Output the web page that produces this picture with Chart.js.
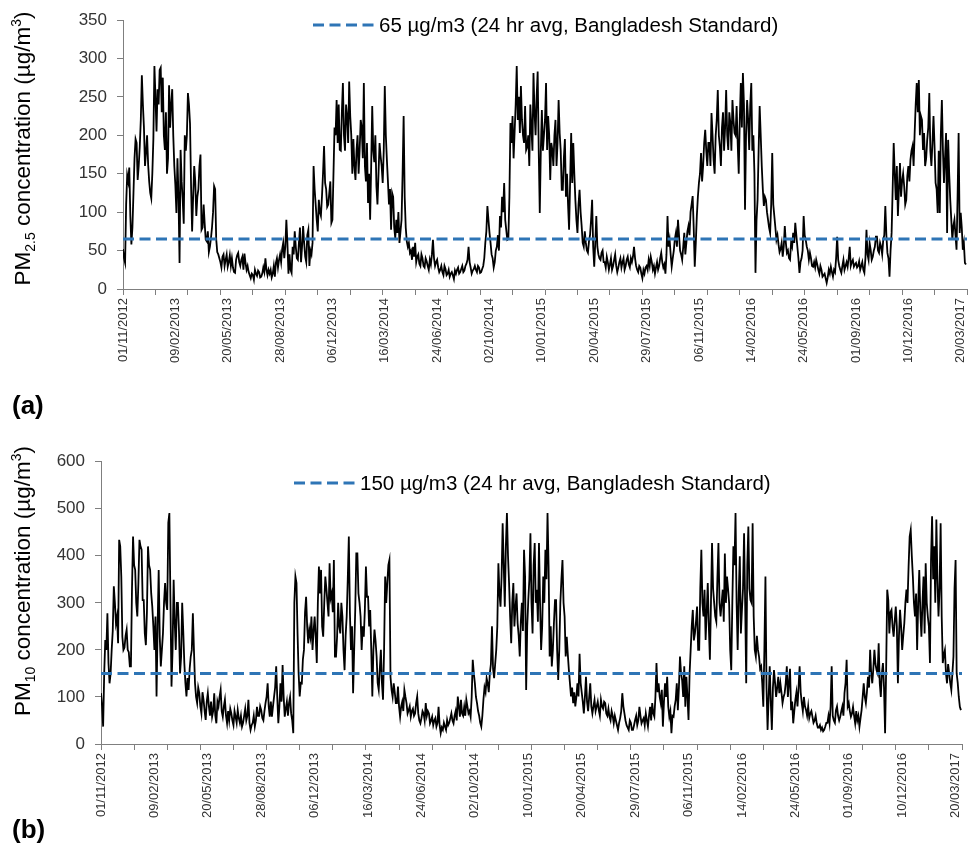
<!DOCTYPE html>
<html><head><meta charset="utf-8">
<script src="https://cdn.jsdelivr.net/npm/chart.js@4.4.1/dist/chart.umd.min.js"></script>
<style>
html,body{margin:0;padding:0;background:#fff;overflow:hidden;width:978px;height:847px;}
.panel{position:absolute;left:0;}
.tag{position:absolute;left:12px;font:bold 26px 'Liberation Sans',Arial,sans-serif;color:#000;line-height:1;}
</style></head><body>
<div class="panel" style="top:0;width:978px;height:400px"><canvas id="cA" width="978" height="400"></canvas></div>
<div class="panel" style="top:430px;width:978px;height:417px"><canvas id="cB" width="978" height="417"></canvas></div>
<div class="tag" style="top:392px">(a)</div>
<div class="tag" style="top:816px">(b)</div>
<script>
// ---------- DATA ----------
// x-axis tick labels (every 100 days from 01/11/2012)
const dateLabels = ['01/11/2012','09/02/2013','20/05/2013','28/08/2013','06/12/2013','16/03/2014','24/06/2014','02/10/2014','10/01/2015','20/04/2015','29/07/2015','06/11/2015','14/02/2016','24/05/2016','01/09/2016','10/12/2016','20/03/2017'];
const sampleStepDays = 2;          // one reading every 2 days from 01/11/2012
const axisSpanDays = 1612;         // axis ends 01/04/2017
const tickMarkEvery = 62;          // tick mark interval (days)
const labelEvery = 100;            // label interval (days)

// PM2.5 (µg/m3), one value every 2 days
const pm25 = [
52,40,34,110,148,140,158,95,58,80,125,170,195,190,142,160,185,220,278,240,
210,160,178,200,162,140,125,118,150,195,290,250,205,260,240,285,288,230,275,200,
181,230,150,170,265,210,240,260,200,160,135,99,170,120,34,181,140,116,85,200,
180,200,255,240,215,134,75,120,160,140,95,120,130,160,175,77,80,110,85,64,
62,75,48,55,66,80,100,134,130,65,48,45,40,35,28,42,45,30,38,45,
29,35,44,30,40,28,22,21,38,44,47,35,30,38,42,25,46,34,25,30,
22,18,14,20,18,12,25,20,17,24,22,15,16,20,28,22,40,25,18,25,
20,25,15,20,30,16,34,40,28,38,45,35,52,60,40,55,90,60,20,45,
25,21,55,45,75,55,40,38,60,80,35,55,82,60,42,35,70,77,30,50,
45,60,160,130,110,90,75,116,100,95,120,150,186,138,130,107,110,125,140,86,
90,150,210,200,246,190,240,181,180,230,268,200,180,240,225,190,270,225,200,150,
195,160,142,180,200,150,181,220,210,170,268,160,140,190,112,150,90,160,238,180,
165,200,134,110,150,190,173,160,138,180,264,200,168,140,110,130,77,125,120,80,
66,90,73,100,60,75,90,150,225,120,80,62,55,60,47,50,38,55,42,60,
35,42,45,33,30,45,40,30,28,40,36,30,25,38,32,45,64,40,30,35,
38,28,22,25,30,22,18,30,26,18,20,25,16,20,22,18,13,24,20,25,
28,20,22,26,30,22,24,30,33,38,55,35,28,20,24,26,30,25,22,30,
28,21,22,26,30,40,60,75,108,90,73,60,45,40,28,35,50,55,70,50,
95,80,120,100,138,90,77,64,65,120,216,190,225,170,205,240,290,220,250,203,
264,220,200,190,238,181,185,200,160,240,210,180,281,230,200,250,283,181,99,180,
233,180,200,220,268,181,225,200,142,190,181,160,200,220,160,190,246,203,180,129,
129,170,195,120,150,110,77,140,203,138,190,150,116,90,73,110,129,100,82,60,
55,75,60,50,47,62,70,90,116,55,29,60,95,55,45,40,38,47,50,35,
35,28,42,35,25,32,40,25,30,38,45,30,22,28,35,40,28,35,40,25,
30,38,42,32,28,40,35,42,55,40,30,25,22,30,28,20,14,25,20,28,
30,25,38,30,42,35,25,30,20,28,35,25,30,40,47,35,28,32,20,45,
95,55,64,45,29,40,50,65,73,55,90,70,50,45,38,55,73,45,60,75,
82,70,100,110,121,80,29,60,95,120,138,150,177,140,160,190,207,180,160,190,
190,160,229,200,168,150,200,220,259,200,185,160,210,230,180,210,259,200,181,230,
216,180,246,220,203,200,238,190,150,220,268,210,281,240,103,200,246,220,181,240,
268,180,200,150,21,90,116,180,238,200,160,130,108,120,116,100,90,80,73,110,
177,110,95,80,64,70,58,48,52,60,42,55,82,60,47,50,40,38,60,55,
73,60,86,70,55,40,21,35,40,50,95,70,64,55,50,38,47,40,30,29,
35,28,38,32,25,20,30,25,16,18,20,14,8,15,25,20,29,22,16,25,
22,40,68,38,30,25,21,30,38,25,30,35,29,40,55,30,35,38,29,32,
34,28,30,36,25,30,35,25,21,40,77,45,38,60,51,38,42,50,55,68,
68,50,47,60,55,45,64,70,108,70,47,40,16,50,73,130,190,150,116,160,
95,130,164,120,140,150,134,110,116,147,160,140,168,180,186,160,203,240,268,230,
272,200,225,220,181,203,160,170,194,210,255,180,160,190,225,186,138,130,99,180,
99,200,246,181,138,170,203,73,194,150,116,90,64,82,90,70,51,120,203,73,
99,80,51,60,34,32
];

// PM10 (µg/m3), one value every 2 days
const pm10 = [
108,80,37,150,221,200,278,172,129,150,200,240,335,300,257,271,214,434,420,356,
228,200,205,230,243,200,195,165,165,328,441,380,370,300,271,342,434,420,413,306,
306,235,210,280,420,380,370,320,292,250,200,271,101,250,370,228,165,200,235,300,
342,300,285,470,491,306,122,200,349,260,200,300,300,240,150,186,300,240,172,130,
101,140,115,160,186,200,278,200,129,100,87,120,108,80,65,110,94,70,51,90,
108,80,60,90,58,70,108,60,44,90,80,100,115,70,58,80,94,60,44,70,
50,75,65,50,40,70,58,45,72,55,45,60,37,45,60,75,50,60,94,45,
30,40,45,60,37,50,79,60,60,80,72,55,50,70,87,100,129,80,58,90,
58,80,100,120,165,100,44,80,129,90,168,100,58,75,90,60,87,100,65,50,
23,300,356,342,235,150,101,130,129,180,200,280,313,250,214,243,228,271,200,240,
271,228,172,300,377,320,370,250,228,300,356,330,300,271,384,310,320,280,391,186,
186,228,300,250,235,300,271,200,157,230,271,350,441,280,200,250,108,200,285,405,
405,320,300,271,200,250,228,285,377,313,313,250,285,200,101,200,243,220,186,130,
115,160,200,129,94,200,356,300,342,380,391,143,115,100,129,110,87,87,122,80,
58,80,90,70,115,100,87,65,72,80,58,70,75,60,65,87,101,65,50,44,
55,70,65,50,87,60,70,65,44,50,58,40,50,55,37,45,79,40,23,35,
30,45,37,30,51,40,45,55,65,50,44,60,70,50,101,80,58,94,65,60,
79,60,94,80,65,70,58,100,179,150,129,100,87,70,60,45,37,60,94,120,
110,140,129,110,150,170,250,160,140,170,200,250,384,320,292,356,469,380,292,420,
491,400,342,271,214,300,342,250,290,320,257,230,186,260,300,240,413,356,115,250,
306,350,448,300,235,380,427,300,328,260,427,300,200,250,356,300,413,350,491,377,
186,250,165,200,257,306,306,200,136,200,300,350,391,300,271,186,228,190,157,129,
101,120,87,110,80,100,129,101,192,130,110,90,65,100,143,90,70,100,129,80,
65,80,94,70,80,90,72,60,94,80,75,90,87,65,60,75,58,50,70,60,
44,60,50,40,30,45,55,70,108,80,65,50,40,35,30,50,45,30,30,40,
51,60,40,50,79,60,44,50,55,40,65,50,37,60,79,50,87,65,58,100,
172,110,129,100,87,115,37,90,129,100,143,80,58,70,23,60,58,80,94,129,
72,120,186,150,136,100,165,79,143,100,51,150,200,250,285,220,235,260,292,200,
200,330,413,300,271,328,221,280,342,250,179,300,427,330,300,271,260,350,427,300,
271,300,328,260,405,300,356,330,300,200,157,300,420,380,491,300,200,320,399,235,
285,330,448,300,129,380,462,330,306,300,469,271,200,186,230,200,186,160,165,129,
79,200,356,120,30,100,165,90,30,120,157,130,100,120,143,108,129,110,87,100,
108,130,165,100,129,160,72,90,44,70,94,110,80,120,165,110,87,70,100,80,
72,60,80,55,65,70,58,45,50,60,44,35,35,40,30,35,27,30,37,45,
45,60,44,80,165,60,50,45,72,80,60,50,58,70,80,60,108,130,179,80,
87,70,58,65,79,60,44,70,50,60,37,55,72,100,129,100,87,110,143,120,
200,150,129,160,200,170,157,150,214,129,100,150,172,120,23,160,328,306,235,280,
285,250,228,260,292,250,129,230,285,250,200,230,257,300,328,300,377,441,455,400,
356,300,271,320,200,300,370,280,228,300,356,235,384,300,271,250,172,391,484,350,
420,300,477,350,271,330,469,271,172,190,200,150,129,170,150,130,115,150,186,330,
391,150,130,100,79,72
];

// Bangladesh 24-hr standards (µg/m3)
const standardValues = [65, 150];
const standardLabels = ['65 µg/m3 (24 hr avg, Bangladesh Standard)', '150 µg/m3 (24 hr avg, Bangladesh Standard)'];
const yMaxes = [350, 600];
const ySteps = [50, 100];

// ---------- RENDER ----------
const FONT = "'Liberation Sans', Arial, sans-serif";
const AXIS = '#7f7f7f';
const TICKTXT = '#333333';
const STDCOL = '#2E75B6';

// tick positions: union of tick marks and label positions
const tickValues = (() => {
  const s = new Set();
  for (let v = 0; v <= axisSpanDays; v += tickMarkEvery) s.add(v);
  for (let v = 0; v < dateLabels.length * labelEvery; v += labelEvery) s.add(v);
  return [...s].sort((a, b) => a - b);
})();

const annotPlugin = {
  id: 'annot',
  afterDraw(chart, args, o) {
    const ctx = chart.ctx;
    const ds = chart.data.datasets[0];
    // legend (dashed sample + label)
    ctx.save();
    ctx.strokeStyle = ds.borderColor;
    ctx.lineWidth = ds.borderWidth;
    ctx.setLineDash(ds.borderDash);
    ctx.beginPath();
    ctx.moveTo(o.legendX, o.legendY);
    ctx.lineTo(o.legendX + o.legendLen, o.legendY);
    ctx.stroke();
    ctx.setLineDash([]);
    ctx.fillStyle = '#000';
    ctx.font = o.legendSize + 'px ' + FONT;
    ctx.textBaseline = 'middle';
    ctx.textAlign = 'left';
    ctx.fillText(ds.label, o.legendX + o.legendLen + o.legendGap, o.legendY + 1);
    ctx.restore();
    // y-axis title with sub/superscripts
    ctx.save();
    ctx.translate(o.titleX, o.titleY);
    ctx.rotate(-Math.PI / 2);
    ctx.fillStyle = '#000';
    ctx.textBaseline = 'alphabetic';
    ctx.textAlign = 'left';
    let total = 0;
    o.titleRuns.forEach(r => { ctx.font = (o.titleSize * r.s) + 'px ' + FONT; total += ctx.measureText(r.t).width; });
    let x = -total / 2;
    o.titleRuns.forEach(r => {
      ctx.font = (o.titleSize * r.s) + 'px ' + FONT;
      ctx.fillText(r.t, x, r.dy * o.titleSize);
      x += ctx.measureText(r.t).width;
    });
    ctx.restore();
  }
};

function buildPanel(canvasId, idx, values, lay, titleRuns) {
  const series = values.map((v, i) => ({ x: i * sampleStepDays, y: v }));
  const std = standardValues[idx];
  const stdLine = [{ x: 0, y: std }, { x: axisSpanDays, y: std }];
  new Chart(document.getElementById(canvasId), {
    type: 'line',
    data: {
      datasets: [
        { label: standardLabels[idx], data: stdLine, borderColor: STDCOL, borderWidth: 3, borderDash: [11, 5.5], pointRadius: 0, order: 0, fill: false },
        { label: 'daily', data: series, borderColor: '#000', borderWidth: 1.8, pointRadius: 0, tension: 0, order: 1, fill: false }
      ]
    },
    options: {
      responsive: false, animation: false, devicePixelRatio: 1,
      layout: { padding: lay.padding },
      plugins: {
        legend: { display: false }, tooltip: { enabled: false }, title: { display: false },
        annot: {
          legendX: lay.legendX, legendY: lay.legendY, legendLen: 61, legendGap: 5, legendSize: 20.5,
          titleX: lay.titleX, titleY: lay.titleY, titleSize: 22.5, titleRuns: titleRuns
        }
      },
      scales: {
        x: {
          type: 'linear', min: 0, max: axisSpanDays,
          afterBuildTicks: (s) => { s.ticks = tickValues.map(v => ({ value: v })); },
          afterFit: (s) => { s.height = lay.xh; s.paddingLeft = 0; s.paddingRight = 0; },
          ticks: {
            autoSkip: false, maxRotation: 90, minRotation: 90, padding: 3, color: TICKTXT,
            font: { family: FONT, size: 13 },
            callback: (v) => (v % labelEvery === 0 ? dateLabels[v / labelEvery] : '')
          },
          grid: {
            drawOnChartArea: false, drawTicks: true, tickLength: 6, tickWidth: 1,
            tickColor: (c) => (c.tick && c.tick.value % tickMarkEvery === 0) ? AXIS : 'rgba(0,0,0,0)'
          },
          border: { display: true, color: AXIS, width: 1 }
        },
        y: {
          min: 0, max: yMaxes[idx],
          afterFit: (s) => { s.width = lay.yw; s.paddingTop = 0; s.paddingBottom = 0; },
          ticks: { stepSize: ySteps[idx], padding: 10, color: TICKTXT, font: { family: FONT, size: 17 } },
          grid: { drawOnChartArea: false, drawTicks: true, tickLength: 6, tickColor: AXIS },
          border: { display: true, color: AXIS, width: 1 }
        }
      }
    },
    plugins: [annotPlugin]
  });
}

buildPanel('cA', 0, pm25, {
  padding: { top: 20, left: 40, right: 11, bottom: 31 }, yw: 83, xh: 80,
  legendX: 313, legendY: 25, titleX: 30, titleY: 148.5
}, [
  { t: 'PM', s: 1, dy: 0 }, { t: '2.5', s: 0.62, dy: 0.2 },
  { t: ' concentration (µg/m', s: 1, dy: 0 }, { t: '3', s: 0.62, dy: -0.4 }, { t: ')', s: 1, dy: 0 }
]);

buildPanel('cB', 1, pm10, {
  padding: { top: 31.7, left: 40, right: 16, bottom: 23 }, yw: 61, xh: 80,
  legendX: 294, legendY: 53, titleX: 30, titleY: 151
}, [
  { t: 'PM', s: 1, dy: 0 }, { t: '10', s: 0.62, dy: 0.2 },
  { t: ' concentration (µg/m', s: 1, dy: 0 }, { t: '3', s: 0.62, dy: -0.4 }, { t: ')', s: 1, dy: 0 }
]);
</script></body></html>
